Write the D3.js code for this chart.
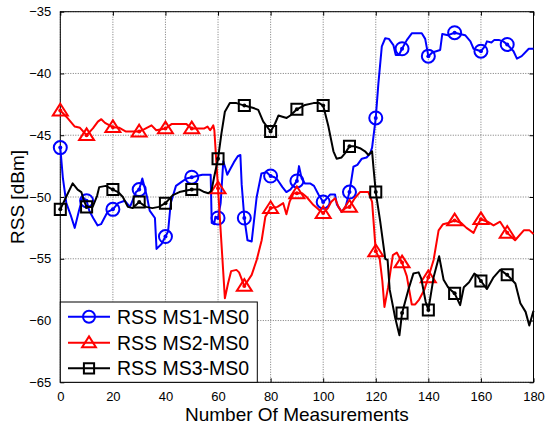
<!DOCTYPE html>
<html><head><meta charset="utf-8">
<script src="https://cdn.jsdelivr.net/npm/d3@7"></script>
<style>body{margin:0;background:#fff}svg{display:block}</style>
</head><body><svg id="c" width="545" height="428"></svg>
<script>
const xTicks = [0,20,40,60,80,100,120,140,160,180];
const yTicks = [-65,-60,-55,-50,-45,-40,-35];
const markerXs = [0,10,20,30,40,50,60,70,80,90,100,110,120,130,140,150,160,170];
const seriesNames = ["RSS MS1-MS0","RSS MS2-MS0","RSS MS3-MS0"];
const xLabel = "Number Of Measurements";
const yLabel = "RSS [dBm]";

const ms1X = [0,1,2.3,4,5.5,7,8.5,10,11,12.5,14.2,15.5,18,20,22,24.5,26.5,28.8,30,31.2,33,34,36,36.6,38.5,40,41,42,44,46,48,50,52,54,56,57.2,57.6,58.5,59,60,61,62,63,63.5,64.5,66,67.5,68.5,69,70,71.2,72.8,74.7,76.5,78.5,80,81.5,82.6,84.5,86,87.5,89,90,90.8,91.8,93,95,96.5,98.2,100,101,102.6,104.5,105.2,107,108.5,110,111.5,113,114.7,116.5,117.8,118.6,120,121,122.3,123.6,125,126.7,127.6,128.8,130,131.8,133.7,137.5,138.8,140,141.5,143,144.5,145.3,147.5,150,152,154,156,157.2,160,161.5,162.3,164,165,167,168.5,170,172.4,173.7,175.5,178.2,180];
const ms1Y = [-46,-48.5,-50.5,-51.5,-52.5,-51.2,-50,-50.3,-51.1,-51.7,-52.3,-52.2,-51.2,-51,-50.5,-50.3,-50.8,-49.6,-49.4,-48.5,-50,-51.1,-51.7,-54.2,-53.8,-53.2,-52.8,-50.5,-49.1,-48.8,-48.5,-48.4,-48.3,-48.2,-48.2,-48.2,-52.1,-52.2,-51.6,-51.7,-50.5,-47.1,-47.8,-48.2,-47.8,-47.2,-46.7,-46.6,-49,-51.7,-53.5,-53.6,-50,-48.1,-48,-48.3,-48.4,-48.6,-49.2,-49.6,-49.4,-49,-48.7,-47.5,-48.5,-48.9,-48.9,-49.1,-49.8,-50.4,-50.2,-49.8,-49.8,-50.6,-51.2,-50.8,-49.6,-47.55,-47.4,-46.9,-46.8,-46.5,-46,-43.6,-40.8,-37.8,-37.15,-37.2,-37.7,-38.5,-38.5,-38,-37.3,-36.75,-36.75,-37.2,-38.6,-38.3,-38.2,-38.1,-36.8,-36.9,-36.7,-36.8,-36.9,-37.4,-38,-38.2,-37.8,-37.4,-37.5,-37.3,-37.3,-37.4,-37.65,-38.2,-38.8,-38.6,-38,-38];

const ms2X = [0,2.3,5.5,7.5,10,12.4,14.3,15.6,17,20,22.5,25,28,30,32,34.7,36.5,40,42.3,44,48,50,52,54.8,56,57,57.5,58.2,58.6,60,62.6,63.8,65,67,68,70,72.8,74.7,76.6,78,80,82.6,84.8,86,87.2,88.7,90,92,93.7,96.3,98.2,100,101.8,103,104.5,105.8,107,108.5,110,112,114,117.2,118.6,119.2,120,121.5,122.5,123.3,124.7,126.5,128,130,131.8,133.7,135,136.5,138.5,140,142,143.9,145.6,147.5,150,152.5,154.5,157.2,158.5,160,162.5,164.8,167.3,170,173,176.3,178.5,180];
const ms2Y = [-43,-43.5,-44.3,-44.4,-45,-44.45,-43.9,-43.7,-44,-44.35,-44.4,-44.7,-44.7,-44.7,-44.5,-44.2,-44.6,-44.45,-44.1,-44.1,-44.1,-44.45,-44.45,-44.45,-44.3,-44.6,-44.45,-44.2,-44.6,-49.3,-58.2,-57,-56,-55.9,-56.1,-57.2,-56.3,-55.1,-53.5,-51.6,-50.9,-50.8,-50.5,-51.4,-50.4,-49.7,-49.7,-49.7,-50,-50.65,-51,-51.3,-50.9,-50.4,-50.1,-50.8,-51.2,-50.9,-50.8,-50.1,-49.6,-49.6,-50.4,-52.1,-54.4,-55,-56.8,-58.9,-57.3,-54.7,-54.5,-55.3,-56.4,-58.7,-58.7,-58.3,-57.5,-56.5,-55.1,-52.7,-52.2,-52.1,-51.9,-52.1,-52.5,-52.9,-52.3,-51.8,-52,-52.3,-52,-52.9,-53.5,-52.7,-52.7,-53];

const ms3X = [0,2.2,4.7,6.6,8,9,10,12.3,14,14.8,17.3,20,22,23.8,25.7,27.5,30,32.6,35,37.5,40,42.8,45.3,47.5,50,53,54.8,56.3,57.5,58.5,60,61.3,62.6,64.5,67,70,73.5,75.3,77.2,80,81.7,83,84.5,86.1,87.5,90,93.1,96.3,98.5,100,102,103.9,105.1,107,108.5,110,112,114,115.9,117.2,118.6,119.1,120,121.7,123.6,124.5,125.3,127.4,129,130,132.4,134.3,136.3,137.3,139,140,142,144.1,145.8,147.5,148.9,150,152.1,153.5,155.5,157.5,158.7,160,162.3,164.8,167.3,170,173.1,175,177,178.4,180];
const ms3Y = [-51,-50,-48.9,-49.4,-49.6,-50.3,-50.8,-50.8,-49.9,-49.2,-49.1,-49.4,-49.6,-50,-50.8,-50.9,-50.4,-50.8,-50.9,-50.8,-50.5,-49.85,-49.6,-49.5,-49.4,-49.4,-49.6,-49.7,-49.5,-48.4,-46.9,-44.85,-43.1,-42.4,-42.4,-42.6,-42.8,-42.95,-43.9,-44.7,-44.05,-43.4,-43.5,-43.6,-43.4,-42.9,-42.55,-42.4,-42.4,-42.6,-44.3,-46.3,-46.9,-46.8,-46.4,-45.9,-45.9,-46.05,-46.3,-46.6,-46.3,-47.55,-49.6,-52,-55,-55.1,-57.5,-59.8,-61.2,-59.4,-57.5,-56.2,-56.1,-56.6,-58.5,-59.15,-56.5,-54.8,-56.7,-57.3,-57.6,-57.8,-58.75,-57.3,-56.9,-56.2,-56.4,-56.8,-57.45,-56.5,-55.9,-56.3,-57,-58.6,-59.3,-60.4,-59.2];

const colors = ["#0000ff","#ff0000","#000000"];
const markerTypes = ["circle","triangle","square"];

const series = [
  {name: seriesNames[0], xs: ms1X, ys: ms1Y, color: colors[0], marker: markerTypes[0]},
  {name: seriesNames[1], xs: ms2X, ys: ms2Y, color: colors[1], marker: markerTypes[1]},
  {name: seriesNames[2], xs: ms3X, ys: ms3Y, color: colors[2], marker: markerTypes[2]}
];

const L = 60.3, R = 533.5, T = 11.7, B = 382.3;
const svg = d3.select("#c");
const x = d3.scaleLinear().domain([0,180]).range([L,R]);
const y = d3.scaleLinear().domain([-65,-35]).range([B,T]);
const font = "'Liberation Sans', Arial, sans-serif";

svg.append("rect").attr("x",0).attr("y",0).attr("width",545).attr("height",428).attr("fill","#fff");

// grid
const grid = svg.append("g").attr("stroke","#555").attr("stroke-width",0.8).attr("stroke-dasharray","1,1.5");
xTicks.forEach(t => grid.append("line").attr("x1",x(t)).attr("x2",x(t)).attr("y1",T).attr("y2",B));
yTicks.forEach(t => grid.append("line").attr("y1",y(t)).attr("y2",y(t)).attr("x1",L).attr("x2",R));

// axes
const xAxis = d3.axisBottom(x).tickValues(xTicks).tickSize(-4).tickPadding(9).tickFormat(d3.format("d"));
const yAxis = d3.axisLeft(y).tickValues(yTicks).tickSize(-4).tickPadding(8).tickFormat(d3.format("d"));
const gx = svg.append("g").attr("transform",`translate(0,${B})`).call(xAxis);
const gy = svg.append("g").attr("transform",`translate(${L},0)`).call(yAxis);
const gxt = svg.append("g").attr("transform",`translate(0,${T})`).call(d3.axisTop(x).tickValues(xTicks).tickSize(-4).tickFormat(""));
const gyr = svg.append("g").attr("transform",`translate(${R},0)`).call(d3.axisRight(y).tickValues(yTicks).tickSize(-4).tickFormat(""));
[gx,gy,gxt,gyr].forEach(g => {
  g.select(".domain").remove();
  g.selectAll("line").attr("stroke","#000").attr("stroke-width",1);
  g.selectAll("text").attr("font-family",font).attr("font-size","13px").attr("fill","#000");
});
gy.selectAll("text").attr("dx","-1");

// frame
svg.append("rect").attr("x",L).attr("y",T).attr("width",R-L).attr("height",B-T)
  .attr("fill","none").attr("stroke","#000").attr("stroke-width",1);

// marker path generator
function markerPath(type, s) {
  if (type === "circle") return d3.symbol().type(d3.symbolCircle).size(Math.PI*s*s)();
  if (type === "square") { const h = s*0.85; return `M${-h},${-h}H${h}V${h}H${-h}Z`; }
  const w = s*1.15, h1 = s*1.05, h2 = s*0.75;
  return `M0,${-h1}L${w},${h2}L${-w},${h2}Z`;
}

const line = d3.line().x(d => x(d[0])).y(d => y(d[1]));
const plot = svg.append("g");
series.forEach(s => {
  const pts = s.xs.map((v,i) => [v, s.ys[i]]);
  plot.append("path").attr("d", line(pts)).attr("fill","none").attr("stroke",s.color)
    .attr("stroke-width",2).attr("stroke-linejoin","round");
  const mk = pts.filter(p => markerXs.includes(p[0]));
  const g = plot.append("g");
  mk.forEach(p => {
    g.append("path").attr("d", markerPath(s.marker, 6.5))
      .attr("transform",`translate(${x(p[0])},${y(p[1])})`)
      .attr("fill","none").attr("stroke",s.color).attr("stroke-width",2);
    g.append("circle").attr("cx",x(p[0])).attr("cy",y(p[1])).attr("r",2).attr("fill",s.color);
  });
});

// labels
svg.append("text").attr("x",(L+R)/2).attr("y",421).attr("text-anchor","middle")
  .attr("font-family",font).attr("font-size","19px").text(xLabel);
svg.append("text").attr("transform",`translate(24,${(T+B)/2}) rotate(-90)`).attr("text-anchor","middle")
  .attr("font-family",font).attr("font-size","19px").text(yLabel);

// legend
const lg = svg.append("g");
const lgX = L, lgY = 302, lgW = 197, lgH = B - 302;
lg.append("rect").attr("x",lgX).attr("y",lgY).attr("width",lgW).attr("height",lgH)
  .attr("fill","#fff").attr("stroke","#000").attr("stroke-width",1);
const rows = [316.7, 342.7, 368.3];
series.forEach((s,i) => {
  const cy = rows[i];
  lg.append("line").attr("x1",68).attr("x2",110).attr("y1",cy).attr("y2",cy).attr("stroke",s.color).attr("stroke-width",2);
  lg.append("path").attr("d", markerPath(s.marker, 6)).attr("transform",`translate(89,${cy})`)
    .attr("fill","none").attr("stroke",s.color).attr("stroke-width",2);
  lg.append("text").attr("x",117).attr("y",cy).attr("dy","0.36em").attr("font-family",font)
    .attr("font-size","19.5px").attr("fill","#000").text(s.name);
});
</script></body></html>
